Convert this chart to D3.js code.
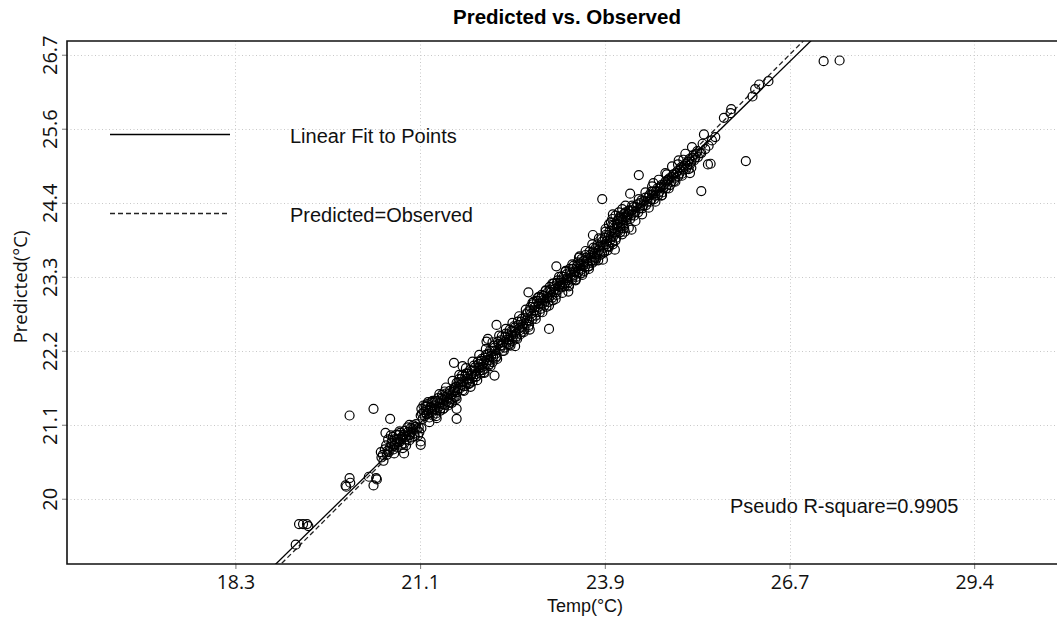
<!DOCTYPE html>
<html><head><meta charset="utf-8">
<script src="https://cdn.jsdelivr.net/npm/d3@7"></script>
<style>body{margin:0;background:#fff} svg{display:block}</style>
</head><body><svg id="c" width="1057" height="617"></svg>
<script>
const chartTitle = "Predicted vs. Observed";
const xAxisTitle = "Temp(°C)";
const yAxisTitle = "Predicted(°C)";
const xTickValues = [18.333, 21.111, 23.889, 26.667, 29.444];
const xTickLabels = ["18.3", "21.1", "23.9", "26.7", "29.4"];
const yTickValues = [20, 21.111, 22.222, 23.333, 24.444, 25.556, 26.667];
const yTickLabels = ["20", "21.1", "22.2", "23.3", "24.4", "25.6", "26.7"];
const fitIntercept = 0.534;
const fitSlope = 0.976;
const rSquareText = "Pseudo R-square=0.9905";
const legendLabels = ["Linear Fit to Points", "Predicted=Observed"];

// [observed, predicted] in °C
const points = [
 [19.24,19.31],[19.29,19.62],[19.35,19.62],[19.41,19.62],[19.43,19.59],
 [20.00,20.18],[19.99,20.20],[20.05,20.31],[20.06,20.24],
 [20.05,21.25],[20.41,21.35],
 [20.34,20.33],[20.45,20.31],[20.46,20.29],[20.41,20.20],
 [20.66,21.20],
 // lower cluster
 [20.52,20.70],[20.56,20.57],[20.59,20.99],[20.63,20.89],[20.68,20.84],[20.73,20.89],[20.81,20.99],
 [20.87,20.68],[20.95,21.11],[21.01,21.10],[20.96,20.96],[21.12,20.86],[21.12,20.81],[21.06,21.04],
 [21.13,21.06],[20.91,20.89],[20.83,20.81],[20.76,20.77],[20.71,20.74],[20.61,20.66],
 [20.66,20.78],[20.70,20.93],[20.74,20.82],[20.78,20.90],[20.80,20.85],[20.84,20.93],[20.86,20.96],
 [20.88,21.02],[20.90,20.80],[20.93,21.00],[20.97,21.06],[20.99,20.92],[21.02,20.98],[21.04,21.08],
 [20.62,20.72],[20.75,20.96],[20.92,21.07],[21.08,20.95],[21.10,21.00],[20.95,20.88],[20.85,20.76],
 [20.69,20.87],[20.80,21.01],[20.58,20.74],[21.00,21.04],
 [20.60,20.80],[20.64,20.70],[20.67,20.95],[20.72,20.79],[20.77,20.84],[20.82,20.89],[20.87,20.83],
 [20.89,20.93],[20.94,20.95],[20.98,21.00],[21.03,20.94],[21.05,21.12],[21.09,21.07],[20.79,20.96],
 [20.72,20.68],[20.55,20.66],[20.53,20.62],
 // band 21.1 - 21.6
 [21.23,21.45],[21.36,21.21],[21.48,21.61],[21.62,22.04],[21.66,21.50],[21.66,21.35],[21.66,21.20],
 [21.12,21.25],[21.13,21.35],[21.15,21.20],[21.17,21.30],[21.19,21.40],[21.21,21.27],[21.23,21.33],
 [21.25,21.22],[21.27,21.38],[21.29,21.30],[21.31,21.44],[21.33,21.35],[21.35,21.28],[21.37,21.47],
 [21.39,21.38],[21.41,21.32],[21.43,21.50],[21.45,21.42],[21.47,21.36],[21.49,21.53],[21.51,21.46],
 [21.53,21.40],[21.55,21.57],[21.57,21.49],[21.59,21.44],[21.61,21.60],[21.63,21.53],
 [21.14,21.28],[21.16,21.40],[21.18,21.24],[21.20,21.34],[21.22,21.42],[21.24,21.29],[21.26,21.36],
 [21.28,21.45],[21.30,21.25],[21.32,21.40],[21.34,21.47],[21.36,21.33],[21.38,21.51],[21.40,21.43],
 [21.42,21.36],[21.44,21.56],[21.46,21.48],[21.48,21.41],[21.50,21.58],[21.52,21.51],[21.54,21.45],
 [21.56,21.62],[21.58,21.55],[21.60,21.50],[21.62,21.66],
 // band 21.6 - 22.3
 [21.75,21.99],[21.86,21.74],[22.08,21.89],[22.11,22.36],[22.13,22.40],[22.26,22.61],[22.23,21.85],
 [21.65,21.68],[21.67,21.60],[21.69,21.75],[21.71,21.66],[21.73,21.80],[21.75,21.70],[21.77,21.62],
 [21.79,21.84],[21.81,21.74],[21.83,21.88],[21.85,21.79],[21.87,21.68],[21.89,21.92],[21.91,21.83],
 [21.93,21.97],[21.95,21.87],[21.97,21.78],[21.99,22.02],[22.01,21.93],[22.03,22.07],[22.05,21.98],
 [22.07,21.90],[22.09,22.12],[22.11,22.03],[22.13,22.17],[22.15,22.08],[22.17,21.99],[22.19,22.22],
 [22.21,22.13],[22.23,22.27],[22.25,22.18],[22.27,22.10],[22.29,22.32],
 [21.64,21.62],[21.66,21.74],[21.68,21.65],[21.70,21.80],[21.72,21.71],[21.74,21.85],[21.76,21.76],
 [21.78,21.69],[21.80,21.88],[21.82,21.80],[21.84,21.72],[21.86,21.93],[21.88,21.85],[21.90,21.76],
 [21.92,22.00],[21.94,21.92],[21.96,21.84],[21.98,22.06],[22.00,21.97],[22.02,21.88],[22.04,22.10],
 [22.06,22.03],[22.08,21.95],[22.10,22.16],[22.12,22.08],[22.14,22.00],[22.16,22.22],[22.18,22.14],
 [22.20,22.05],[22.22,22.30],[22.24,22.22],[22.26,22.14],[22.28,22.36],
 // band 22.3 - 23.2
 [22.54,22.29],[22.74,23.10],[22.76,22.54],[23.05,22.55],[23.16,23.49],[23.34,23.11],[23.51,23.64],
 [22.31,22.25],[22.33,22.38],[22.35,22.30],[22.37,22.22],[22.39,22.43],[22.41,22.34],[22.43,22.47],
 [22.45,22.39],[22.47,22.30],[22.49,22.52],[22.51,22.44],[22.53,22.57],[22.55,22.48],[22.57,22.40],
 [22.59,22.61],[22.61,22.53],[22.63,22.66],[22.65,22.58],[22.67,22.50],[22.69,22.71],[22.71,22.63],
 [22.73,22.80],[22.75,22.68],[22.77,22.88],[22.79,22.74],[22.81,22.92],[22.83,22.83],[22.85,22.75],
 [22.87,22.97],[22.89,22.88],[22.91,22.80],[22.93,23.01],[22.95,22.93],[22.97,23.05],[22.99,22.96],
 [23.01,22.88],[23.03,23.10],[23.05,23.02],[23.07,23.14],[23.09,23.06],[23.11,22.98],[23.13,23.19],
 [23.15,23.10],[23.17,23.24],[23.19,23.14],
 [22.32,22.30],[22.34,22.44],[22.36,22.35],[22.38,22.27],[22.40,22.48],[22.42,22.39],[22.44,22.32],
 [22.46,22.54],[22.48,22.45],[22.50,22.37],[22.52,22.59],[22.54,22.51],[22.56,22.44],[22.58,22.66],
 [22.60,22.56],[22.62,22.47],[22.64,22.70],[22.66,22.62],[22.68,22.55],[22.70,22.77],[22.72,22.68],
 [22.74,22.58],[22.76,22.83],[22.78,22.78],[22.80,22.70],[22.82,22.96],[22.84,22.88],[22.86,22.80],
 [22.88,23.02],[22.90,22.93],[22.92,22.85],[22.94,23.06],[22.96,22.98],[22.98,22.90],[23.00,23.12],
 [23.02,23.03],[23.04,22.95],[23.06,23.18],[23.08,23.10],[23.10,23.02],[23.12,23.23],[23.14,23.15],
 [23.16,23.06],[23.18,23.28],[23.20,23.18],
 // band 23.2 - 24.2
 [23.71,23.96],[23.85,24.50],[24.01,24.27],[24.01,23.82],[24.04,23.74],[23.86,23.59],[23.71,23.56],
 [24.29,24.04],[24.27,24.58],[24.40,24.86],
 [23.21,23.20],[23.23,23.28],[23.25,23.18],[23.27,23.33],[23.29,23.24],[23.31,23.37],[23.33,23.28],
 [23.35,23.21],[23.37,23.41],[23.39,23.32],[23.41,23.45],[23.43,23.36],[23.45,23.28],[23.47,23.49],
 [23.49,23.40],[23.51,23.53],[23.53,23.44],[23.55,23.36],[23.57,23.57],[23.59,23.48],[23.61,23.62],
 [23.63,23.53],[23.65,23.45],[23.67,23.66],[23.69,23.58],[23.71,23.71],[23.73,23.63],[23.75,23.76],
 [23.77,23.67],[23.79,23.58],[23.81,23.80],[23.83,23.72],[23.85,23.86],[23.87,23.77],[23.89,23.92],
 [23.91,23.82],[23.93,23.73],[23.95,23.96],[23.97,23.88],[23.99,24.02],[24.01,23.93],[24.03,24.06],
 [24.05,23.98],[24.07,24.11],[24.09,24.02],[24.11,24.15],[24.13,24.06],[24.15,24.19],[24.17,24.10],
 [24.19,24.01],
 [23.90,24.05],[23.95,24.12],[24.00,24.20],[24.05,24.25],[24.10,24.30],[24.15,24.35],[24.20,24.40],
 [24.22,24.25],[24.25,24.33],[23.98,24.15],[24.08,24.18],[24.12,24.24],[24.18,24.28],
 [23.22,23.24],[23.24,23.34],[23.26,23.25],[23.28,23.19],[23.30,23.41],[23.32,23.31],[23.34,23.25],
 [23.36,23.45],[23.38,23.36],[23.40,23.29],[23.42,23.50],[23.44,23.40],[23.46,23.33],[23.48,23.55],
 [23.50,23.45],[23.52,23.38],[23.54,23.60],[23.56,23.50],[23.58,23.42],[23.60,23.66],[23.62,23.56],
 [23.64,23.49],[23.66,23.71],[23.68,23.62],[23.70,23.54],[23.72,23.77],[23.74,23.68],[23.76,23.61],
 [23.78,23.82],[23.80,23.73],[23.82,23.66],[23.84,23.90],[23.86,23.80],[23.88,23.70],[23.90,23.96],
 [23.92,23.87],[23.94,23.79],[23.96,24.02],[23.98,23.93],[24.00,23.85],[24.02,24.10],[24.04,24.00],
 [24.06,23.92],[24.08,24.13],[24.10,24.08],[24.12,24.00],[24.14,24.22],[24.16,24.14],[24.18,24.06],
 [24.20,24.22],
 // band 24.2 - 25.3
 [24.82,24.87],[24.62,24.74],[25.17,24.89],[25.19,24.97],[25.34,24.62],[25.32,25.19],[25.44,25.02],
 [24.21,24.18],[24.24,24.27],[24.27,24.20],[24.30,24.33],[24.33,24.25],[24.36,24.38],[24.39,24.30],
 [24.42,24.44],[24.45,24.36],[24.48,24.47],[24.51,24.41],[24.54,24.52],[24.57,24.46],[24.60,24.57],
 [24.63,24.50],[24.66,24.62],[24.69,24.56],[24.72,24.68],[24.75,24.60],[24.78,24.72],[24.81,24.66],
 [24.84,24.78],[24.87,24.71],[24.90,24.83],[24.93,24.77],[24.96,24.89],[24.99,24.84],[25.02,24.94],
 [25.05,24.88],[25.08,25.00],[25.11,24.95],[25.14,25.06],[25.17,25.02],[25.20,25.12],[25.23,25.08],
 [25.26,25.18],[25.29,25.13],
 [25.07,25.09],[24.99,25.02],[24.84,24.79],[24.74,24.55],[24.59,24.61],
 [24.23,24.23],[24.26,24.32],[24.29,24.26],[24.32,24.38],[24.35,24.31],[24.38,24.42],[24.41,24.36],
 [24.44,24.48],[24.47,24.41],[24.50,24.52],[24.53,24.46],[24.56,24.56],[24.59,24.50],[24.62,24.61],
 [24.65,24.55],[24.68,24.66],[24.71,24.61],[24.74,24.71],[24.77,24.66],[24.80,24.76],[24.83,24.72],
 [24.86,24.81],[24.89,24.76],[24.92,24.87],[24.95,24.82],[24.98,24.92],[25.01,24.88],[25.04,24.98],
 [25.07,24.94],[25.10,25.03],[25.13,25.00],[25.16,25.10],[25.19,25.06],[25.22,25.16],[25.25,25.12],
 [25.28,25.22],
 // outer edge of the dense band
 [21.20,21.38],[21.25,21.15],[21.30,21.47],[21.35,21.24],[21.40,21.57],[21.45,21.34],[21.50,21.67],
 [21.55,21.44],[21.60,21.77],[21.65,21.53],[21.70,21.86],[21.75,21.63],[21.80,21.96],[21.85,21.73],
 [21.90,22.06],[21.95,21.83],[22.00,22.16],[22.05,21.93],[22.10,22.25],[22.15,22.02],[22.20,22.35],
 [22.25,22.12],[22.30,22.45],[22.35,22.22],[22.40,22.55],[22.45,22.31],[22.50,22.64],[22.55,22.41],
 [22.60,22.74],[22.65,22.51],[22.70,22.84],[22.75,22.61],[22.80,22.94],[22.85,22.70],[22.90,23.03],
 [22.95,22.80],[23.00,23.13],[23.05,22.90],[23.10,23.23],[23.15,23.00],[23.20,23.33],[23.25,23.09],
 [23.30,23.42],[23.35,23.19],[23.40,23.52],[23.45,23.29],[23.50,23.62],[23.55,23.39],[23.60,23.72],
 [23.65,23.49],[23.70,23.82],[23.75,23.58],[23.80,23.91],[23.85,23.68],[23.90,24.01],[23.95,23.78],
 [24.00,24.11],[24.05,23.88],[24.10,24.21],[24.15,23.97],[24.20,24.30],[24.25,24.07],[24.30,24.40],
 [24.35,24.17],[24.40,24.50],[24.45,24.27],[24.50,24.60],[24.55,24.37],[24.60,24.69],[24.65,24.46],
 [24.70,24.79],[24.75,24.56],[24.80,24.89],[24.85,24.66],[24.90,24.99],[24.95,24.76],[25.00,25.08],
 [25.05,24.85],[25.10,25.18],[25.15,24.95],[25.20,25.28],
 // upper sparse
 [25.38,25.47],[25.55,25.43],[25.68,25.72],[25.78,25.79],[25.79,25.85],[26.11,26.04],[26.15,26.15],
 [26.21,26.22],[26.35,26.27],[26.01,25.07],[25.48,25.03],[25.34,25.19],
 [25.40,25.25],[25.45,25.30],[25.50,25.38],[25.36,25.33],
 [27.18,26.57],[27.42,26.58]
];

const svg = d3.select("#c");
const L = 67, T = 41, B = 564, R = 1057;
const x = d3.scaleLinear().domain([15.80, 30.69]).range([L, R]);
const y = d3.scaleLinear().domain([19.02, 26.873]).range([B, T]);

svg.append("defs").append("clipPath").attr("id","clip")
  .append("rect").attr("x",L).attr("y",T).attr("width",R-L+10).attr("height",B-T);

// grid
const grid = svg.append("g").attr("stroke","#c8c8c8").attr("stroke-width",1).attr("stroke-dasharray","1,2.5");
grid.selectAll("line.v").data(xTickValues).join("line")
  .attr("x1",d=>Math.round(x(d))+0.5).attr("x2",d=>Math.round(x(d))+0.5).attr("y1",T).attr("y2",B);
grid.selectAll("line.h").data(yTickValues).join("line").attr("class","h")
  .attr("y1",d=>Math.round(y(d))+0.5).attr("y2",d=>Math.round(y(d))+0.5).attr("x1",L).attr("x2",R);

// axes
const xAxis = d3.axisBottom(x).tickValues(xTickValues).tickFormat((d,i)=>xTickLabels[i]).tickSize(5).tickPadding(0);
const gx = svg.append("g").attr("transform",`translate(0,${B})`).call(xAxis);
gx.select(".domain").remove();
gx.selectAll(".tick line").attr("stroke","#777");
gx.selectAll(".tick text").attr("y",25).attr("dy",null)
  .attr("font-family","'Open Sans', sans-serif").attr("font-size",19.5).attr("fill","#111");

const yAxis = d3.axisLeft(y).tickValues(yTickValues).tickFormat((d,i)=>yTickLabels[i]).tickSize(5);
const gy = svg.append("g").attr("transform",`translate(${L},0)`).call(yAxis);
gy.select(".domain").remove();
gy.selectAll(".tick line").attr("stroke","#777");
gy.selectAll(".tick text").attr("x",null).attr("dy",null)
  .attr("transform","translate(-10,0) rotate(-90)").attr("text-anchor","middle")
  .attr("font-family","'Open Sans', sans-serif").attr("font-size",20).attr("fill","#111");

// frame
svg.append("path").attr("d",`M${R+5},${T}H${L}V${B}H${R+5}`)
  .attr("fill","none").attr("stroke","#111").attr("stroke-width",1.6);

// lines
const plot = svg.append("g").attr("clip-path","url(#clip)");
const xd = x.domain();
plot.append("line")
  .attr("x1",x(xd[0])).attr("y1",y(fitIntercept+fitSlope*xd[0]))
  .attr("x2",x(xd[1])).attr("y2",y(fitIntercept+fitSlope*xd[1]))
  .attr("stroke","#000").attr("stroke-width",1.3);
plot.append("line")
  .attr("x1",x(xd[0])).attr("y1",y(xd[0]))
  .attr("x2",x(xd[1])).attr("y2",y(xd[1]))
  .attr("stroke","#222").attr("stroke-width",1.3).attr("stroke-dasharray","5,3");

// points
plot.selectAll("circle").data(points).join("circle")
  .attr("cx",d=>x(d[0])).attr("cy",d=>y(d[1])).attr("r",4.5)
  .attr("fill","none").attr("stroke","#000").attr("stroke-width",1.2);

// legend
const lg = svg.append("g");
lg.append("line").attr("x1",110).attr("x2",230).attr("y1",134.5).attr("y2",134.5)
  .attr("stroke","#000").attr("stroke-width",1.3);
lg.append("line").attr("x1",110).attr("x2",230).attr("y1",213.5).attr("y2",213.5)
  .attr("stroke","#222").attr("stroke-width",1.3).attr("stroke-dasharray","5,3");
lg.selectAll("text").data(legendLabels).join("text")
  .attr("x",290).attr("y",(d,i)=>i===0?143:222).text(d=>d)
  .attr("font-family","'Liberation Sans', Arial, sans-serif").attr("font-size",20).attr("fill","#111");

svg.append("text").attr("x",730).attr("y",513).text(rSquareText)
  .attr("font-family","'Liberation Sans', Arial, sans-serif").attr("font-size",20).attr("fill","#111");

svg.append("text").attr("x",567).attr("y",24).attr("text-anchor","middle").text(chartTitle)
  .attr("font-family","'Liberation Sans', Arial, sans-serif").attr("font-weight","bold").attr("font-size",20.5).attr("fill","#000");

svg.append("text").attr("x",585).attr("y",612).attr("text-anchor","middle").text(xAxisTitle)
  .attr("font-family","'Liberation Sans', Arial, sans-serif").attr("font-size",18).attr("fill","#111");
svg.append("text").attr("transform","translate(27,287) rotate(-90)").attr("text-anchor","middle").text(yAxisTitle)
  .attr("font-family","'Open Sans', sans-serif").attr("font-size",18.5).attr("fill","#111");
</script></body></html>
